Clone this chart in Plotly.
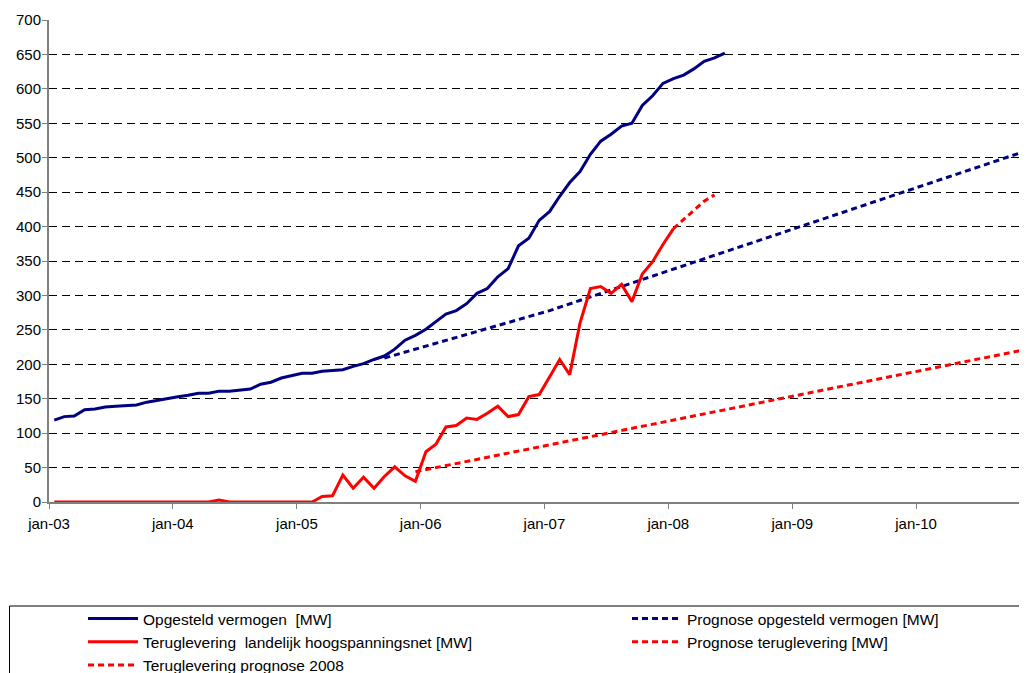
import pandas as pd
import plotly.graph_objects as go

# ---- data ----
months = pd.date_range("2003-01-01", "2008-06-01", freq="MS")  # jan-03 .. jun-08

opgesteld = [119, 124, 125, 134, 135, 138, 139, 140, 141, 145, 148, 151,
             153, 155, 158, 158, 161, 161, 162, 164, 171, 174, 180, 184,
             187, 187, 190, 191, 192, 197, 201, 207, 212, 222, 235, 242,
             251, 262, 273, 278, 288, 303, 310, 327, 339, 372, 383, 409,
             422, 444, 464, 480, 505, 524, 534, 546, 550, 576, 590, 608,
             615, 620, 629, 640, 645, 652]

teruglevering = [0, 0, 0, 0, 0, 0, 0, 0, 0, 0, 0, 0,
                 0, 0, 0, 0, 3, 0, 0, 0, 0, 0, 0, 0,
                 0, 0, 8, 9, 39, 20, 36, 20, 37, 51, 38, 30,
                 73, 84, 109, 111, 122, 120, 129, 139, 124, 127, 153, 156,
                 182, 207, 185, 260, 310, 313, 303, 316, 291, 331, 349, 374,
                 397]

prog_opgesteld_dates = ["2005-09-01", "2007-01-01", "2010-12-01"]
prog_opgesteld = [209, 278, 514]

prog_terug_dates = ["2005-12-01", "2010-12-01"]
prog_terug = [44, 224]

terug_2008_dates = ["2008-01-01", "2008-02-01", "2008-03-01", "2008-04-01", "2008-05-01"]
terug_2008 = [397, 410, 424, 437, 446]

tick_dates = ["2003-01-01", "2004-01-01", "2005-01-01", "2006-01-01",
              "2007-01-01", "2008-01-01", "2009-01-01", "2010-01-01"]
tick_labels = ["jan-03", "jan-04", "jan-05", "jan-06", "jan-07", "jan-08", "jan-09", "jan-10"]

names = ["Opgesteld vermogen  [MW]",
         "Prognose opgesteld vermogen [MW]",
         "Teruglevering  landelijk hoogspanningsnet [MW]",
         "Prognose teruglevering [MW]",
         "Teruglevering prognose 2008"]

NAVY = "#000080"
RED = "#FF0000"
FONT = "Arial, 'Liberation Sans', sans-serif"
DASH = "6px,4px"

common = dict(mode="lines", xperiod="M1", xperiodalignment="middle", hoverinfo="skip")

fig = go.Figure()
fig.add_trace(go.Scatter(x=months, y=opgesteld, name=names[0], legend="legend",
                         line=dict(color=NAVY, width=3), **common))
fig.add_trace(go.Scatter(x=prog_opgesteld_dates, y=prog_opgesteld, name=names[1], legend="legend2",
                         line=dict(color=NAVY, width=3, dash=DASH), **common))
fig.add_trace(go.Scatter(x=months[:len(teruglevering)], y=teruglevering, name=names[2], legend="legend",
                         line=dict(color=RED, width=3), **common))
fig.add_trace(go.Scatter(x=prog_terug_dates, y=prog_terug, name=names[3], legend="legend2",
                         line=dict(color=RED, width=3, dash=DASH), **common))
fig.add_trace(go.Scatter(x=terug_2008_dates, y=terug_2008, name=names[4], legend="legend",
                         line=dict(color=RED, width=3, dash=DASH), **common))

# The page body has an 8px default margin, so the figure is shrunk and shifted accordingly.
OFF = 8
W, H = 1027 - OFF, 673 - OFF
L, T, B, R = 41, 12, 171, 0
PW, PH = W - L - R, H - T - B


def px_x(p):  # page pixel -> paper x
    return (p - OFF - L) / PW


def px_y(p):  # page pixel -> paper y
    return (H - B - (p - OFF)) / PH


legend_common = dict(font=dict(family=FONT, size=15.5, color="black"), bgcolor="rgba(0,0,0,0)",
                     borderwidth=0, itemwidth=50, xanchor="left", yanchor="top",
                     traceorder="normal", orientation="v")

fig.update_layout(
    width=W, height=H,
    margin=dict(l=L, r=R, t=T, b=B, pad=0, autoexpand=False),
    paper_bgcolor="white", plot_bgcolor="white",
    font=dict(family=FONT, size=15, color="black"),
    showlegend=True,
    legend=dict(x=px_x(83), y=px_y(602), **legend_common),
    legend2=dict(x=px_x(627), y=px_y(602), **legend_common),
    xaxis=dict(type="date", range=["2003-01-01", "2010-11-24"], automargin=False,
               tickvals=tick_dates, ticktext=tick_labels,
               showgrid=False, zeroline=False,
               showline=True, linecolor="#808080", linewidth=2,
               ticks="outside", ticklen=5, tickcolor="#808080", tickwidth=1,
               ticklabelstandoff=2,
               tickfont=dict(family=FONT, size=15, color="black"),
               layer="below traces"),
    yaxis=dict(range=[0, 700], tickmode="linear", tick0=0, dtick=50, automargin=False,
               showgrid=True, gridcolor="black", gridwidth=1, griddash="8px,5px",
               zeroline=False,
               showline=True, linecolor="#808080", linewidth=2,
               ticks="outside", ticklen=5, tickcolor="#808080", tickwidth=1,
               ticklabelstandoff=-2,
               tickfont=dict(family=FONT, size=15, color="black"),
               layer="below traces"),
    shapes=[dict(type="rect", xref="paper", yref="paper",
                 x0=px_x(9.5), x1=px_x(1040), y0=px_y(606), y1=px_y(700),
                 line=dict(color="black", width=1), fillcolor="rgba(0,0,0,0)", layer="below")],
)

fig.write_html("out.html")
